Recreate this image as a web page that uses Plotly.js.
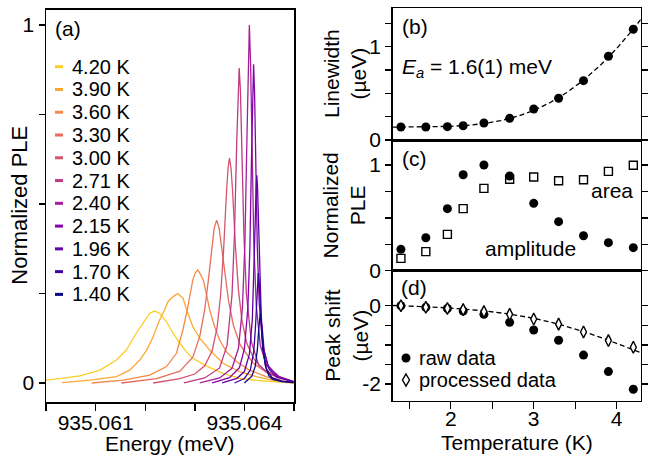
<!DOCTYPE html>
<html>
<head>
<meta charset="utf-8">
<script src="https://cdn.plot.ly/plotly-3.0.1.min.js"></script>
<style>html,body{margin:0;padding:0;background:#fff;}#chart{width:651px;height:458px;}</style>
</head>
<body>
<div id="chart"></div>
<script>
// ---------- DATA ----------
// Panel (a): PLE spectra. Energy offsets in µeV above 935.060 meV, normalized PLE.
const E0_meV = 935.060;
const specLabels = ['4.20 K','3.90 K','3.60 K','3.30 K','3.00 K','2.71 K','2.40 K','2.15 K','1.96 K','1.70 K','1.40 K'];
const specColors = ['#fcce25','#fca934','#f48a47','#e66e5b','#d4536f','#bf3984','#a41e99','#8405a7','#6001a6','#3c049b','#0d0887'];

const mu_420  = [0.00,0.28,0.68,1.09,1.42,1.62,1.82,1.96,2.09,2.19,2.29,2.43,2.56,2.70,2.83,2.96,3.10,3.23,3.57,3.90,4.24,4.57,4.91,4.99];
const ple_420 = [0.008,0.012,0.020,0.036,0.064,0.092,0.139,0.167,0.195,0.201,0.195,0.171,0.139,0.111,0.087,0.069,0.057,0.048,0.027,0.013,0.0075,0.004,0.001,0.0];

const mu_390  = [0.32,0.89,1.42,1.69,1.89,2.03,2.16,2.29,2.39,2.46,2.52,2.56,2.61,2.66,2.71,2.76,2.86,2.96,3.10,3.30,3.57,3.90,4.24,4.57,4.91,4.99];
const ple_390 = [0.001,0.008,0.018,0.036,0.064,0.092,0.129,0.176,0.204,0.227,0.236,0.241,0.246,0.249,0.243,0.237,0.195,0.157,0.125,0.092,0.055,0.032,0.018,0.008,0.002,0.0];

const mu_360  = [0.92,1.56,2.09,2.43,2.63,2.76,2.86,2.96,3.01,3.06,3.11,3.17,3.23,3.30,3.40,3.50,3.64,3.84,4.10,4.44,4.84,4.99];
const ple_360 = [0.0,0.008,0.022,0.046,0.083,0.148,0.213,0.288,0.308,0.316,0.305,0.288,0.251,0.204,0.157,0.120,0.087,0.060,0.036,0.018,0.004,0.0];

const mu_330  = [1.52,2.23,2.70,2.96,3.10,3.20,3.28,3.34,3.39,3.44,3.49,3.54,3.60,3.68,3.78,3.92,4.18,4.44,4.70,4.99];
const ple_330 = [0.0,0.012,0.033,0.072,0.130,0.205,0.295,0.375,0.432,0.455,0.433,0.380,0.310,0.230,0.160,0.105,0.055,0.030,0.016,0.004];

const mu_300  = [2.16,2.70,3.00,3.20,3.35,3.45,3.52,3.58,3.64,3.67,3.70,3.73,3.76,3.82,3.88,3.95,4.05,4.20,4.40,4.70,4.99];
const ple_300 = [0.0,0.012,0.025,0.048,0.090,0.155,0.245,0.370,0.535,0.600,0.628,0.600,0.540,0.380,0.260,0.175,0.110,0.065,0.036,0.018,0.004];

const mu_271  = [2.78,3.20,3.50,3.65,3.75,3.80,3.845,3.87,3.895,3.92,3.945,3.99,4.04,4.14,4.29,4.50,4.75,4.99];
const ple_271 = [0.0,0.014,0.042,0.105,0.245,0.416,0.672,0.817,0.880,0.817,0.672,0.416,0.250,0.115,0.050,0.025,0.013,0.004];

const mu_240  = [3.10,3.50,3.75,3.88,3.96,4.01,4.05,4.075,4.10,4.125,4.15,4.19,4.24,4.32,4.45,4.70,4.99];
const ple_240 = [0.0,0.014,0.041,0.097,0.209,0.390,0.675,0.892,1.000,0.892,0.675,0.390,0.215,0.105,0.048,0.018,0.004];

const mu_215  = [3.35,3.70,3.90,4.00,4.07,4.11,4.145,4.165,4.185,4.205,4.225,4.26,4.30,4.37,4.47,4.67,4.99];
const ple_215 = [0.0,0.015,0.043,0.095,0.210,0.375,0.640,0.810,0.890,0.810,0.640,0.380,0.220,0.105,0.050,0.018,0.004];

const mu_196  = [3.55,3.85,4.00,4.10,4.16,4.19,4.215,4.235,4.25,4.265,4.285,4.31,4.34,4.40,4.50,4.65,4.99];
const ple_196 = [0.0,0.013,0.032,0.080,0.178,0.290,0.433,0.546,0.580,0.546,0.433,0.295,0.185,0.088,0.038,0.016,0.003];

const mu_170  = [3.80,4.00,4.12,4.19,4.222,4.245,4.265,4.28,4.295,4.315,4.338,4.37,4.44,4.56,4.76,4.99];
const ple_170 = [0.0,0.0126,0.036,0.090,0.1535,0.225,0.288,0.307,0.288,0.225,0.155,0.093,0.040,0.015,0.005,0.002];

const mu_140  = [4.00,4.15,4.22,4.264,4.29,4.305,4.32,4.335,4.35,4.376,4.42,4.49,4.56,4.75,4.99];
const ple_140 = [0.0,0.019,0.047,0.0975,0.152,0.182,0.195,0.182,0.152,0.100,0.050,0.021,0.011,0.004,0.001];

// Panels (b)-(d): temperature series
const temps      = [1.40,1.70,1.96,2.15,2.40,2.71,3.00,3.30,3.60,3.90,4.20];
const linewidth  = [0.139,0.139,0.143,0.153,0.182,0.232,0.332,0.447,0.636,0.897,1.186];
const fitT_b     = [1.30,1.50,2.00,2.20,2.40,2.60,2.80,3.00,3.20,3.40,3.60,3.80,4.00,4.20,4.29];
const fitW_b     = [0.138,0.138,0.146,0.157,0.176,0.207,0.253,0.317,0.402,0.509,0.641,0.798,0.980,1.189,1.292];
const amplitude  = [0.202,0.312,0.587,0.908,1.000,0.896,0.637,0.464,0.331,0.265,0.218];
const area       = [0.117,0.180,0.344,0.587,0.779,0.865,0.886,0.851,0.861,0.940,0.997];
const shiftRaw   = [0.0,-0.04,-0.07,-0.135,-0.22,-0.425,-0.62,-0.88,-1.26,-1.68,-2.13];
const shiftProc  = [0.0,-0.04,-0.07,-0.10,-0.15,-0.22,-0.34,-0.47,-0.67,-0.89,-1.06];
const fitT_d     = [1.30,1.40,1.70,2.00,2.40,2.70,3.00,3.30,3.60,3.90,4.20,4.29];
const fitS_d     = [0.005,0.0,-0.025,-0.06,-0.13,-0.21,-0.32,-0.47,-0.66,-0.88,-1.12,-1.20];

// ---------- BUILD ----------
const spectra = [
  [mu_420,ple_420],[mu_390,ple_390],[mu_360,ple_360],[mu_330,ple_330],[mu_300,ple_300],
  [mu_271,ple_271],[mu_240,ple_240],[mu_215,ple_215],[mu_196,ple_196],[mu_170,ple_170],[mu_140,ple_140]
];
const W = 651, H = 458;
const fx = p => p / W, fy = p => 1 - p / H;
const FONT = 'Liberation Sans, Arial, sans-serif';

const traces = [];
spectra.forEach((s, i) => {
  traces.push({
    x: s[0].map(v => E0_meV + v / 1000), y: s[1], xaxis: 'x', yaxis: 'y',
    mode: 'lines', line: {color: specColors[i], width: 1.3}, name: specLabels[i], hoverinfo: 'skip'
  });
});
traces.push({x: fitT_b, y: fitW_b, xaxis: 'x2', yaxis: 'y2', mode: 'lines',
  line: {color: 'black', width: 1.3, dash: '5px,3px'}});
traces.push({x: temps, y: linewidth, xaxis: 'x2', yaxis: 'y2', mode: 'markers',
  marker: {symbol: 'circle', size: 9, color: 'black'}});
traces.push({x: temps, y: amplitude, xaxis: 'x3', yaxis: 'y3', mode: 'markers',
  marker: {symbol: 'circle', size: 9, color: 'black'}});
traces.push({x: temps, y: area, xaxis: 'x3', yaxis: 'y3', mode: 'markers',
  marker: {symbol: 'square-open', size: 8, color: 'black', line: {width: 1.4, color: 'black'}}});
traces.push({x: temps, y: shiftRaw, xaxis: 'x4', yaxis: 'y4', mode: 'markers',
  marker: {symbol: 'circle', size: 9, color: 'black'}});
traces.push({x: fitT_d, y: fitS_d, xaxis: 'x4', yaxis: 'y4', mode: 'lines',
  line: {color: 'black', width: 1.3, dash: '5px,3px'}});
traces.push({x: temps, y: shiftProc, xaxis: 'x4', yaxis: 'y4', mode: 'markers',
  marker: {symbol: 'diamond-tall', size: 8.5, color: 'white', line: {width: 1.4, color: 'black'}}});

const base = {
  showline: true, linecolor: 'black', linewidth: 1.5, mirror: true,
  ticks: 'outside', tickcolor: 'black', tickwidth: 1.4, ticklen: 6,
  showgrid: false, zeroline: false, tickfont: {family: FONT, size: 21, color: 'black'}
};
const xR = [1.301, 4.289];
const layout = {
  width: W, height: H, margin: {l: 0, r: 0, t: 0, b: 0},
  paper_bgcolor: 'white', plot_bgcolor: 'white', showlegend: false,
  font: {family: FONT, size: 21, color: 'black'},
  xaxis: Object.assign({}, base, {domain: [fx(46), fx(294)], range: [935.060, 935.065], anchor: 'y', ticklen: 7,
    ticklabelstandoff: -6,
    tickvals: [935.060,935.061,935.062,935.063,935.064,935.065], ticktext: ['','935.061','','','935.064','']}),
  yaxis: Object.assign({}, base, {domain: [fy(402), fy(9.5)], range: [-0.0531, 1.0433], anchor: 'x',
    tickvals: [0,0.25,0.5,0.75,1], ticktext: ['0','','','','1']}),
  xaxis2: Object.assign({}, base, {domain: [fx(392.7), fx(640.7)], range: xR, anchor: 'y2', ticks: '', showticklabels: false}),
  yaxis2: Object.assign({}, base, {domain: [fy(140), fy(8.3)], range: [0, 1.411], anchor: 'x2', mirror: 'ticks',
    tickvals: [0,0.25,0.5,0.75,1,1.25], ticktext: ['0','','','','1','']}),
  xaxis3: Object.assign({}, base, {domain: [fx(392.7), fx(640.7)], range: xR, anchor: 'y3', ticks: '', showticklabels: false}),
  yaxis3: Object.assign({}, base, {domain: [fy(270.7), fy(140)], range: [0, 1.2365], anchor: 'x3', mirror: 'ticks',
    tickvals: [0,0.25,0.5,0.75,1], ticktext: ['0','','','','1']}),
  xaxis4: Object.assign({}, base, {domain: [fx(392.7), fx(640.7)], range: xR, anchor: 'y4', ticklen: 7,
    ticklabelstandoff: -8,
    tickvals: [1.5,2,2.5,3,3.5,4], ticktext: ['','2','','3','','4']}),
  yaxis4: Object.assign({}, base, {domain: [fy(400.7), fy(270.7)], range: [-2.4235, 0.893], anchor: 'x4', mirror: 'ticks',
    tickvals: [0,-0.5,-1,-1.5,-2], ticktext: ['0','','','','-2']}),
  annotations: [],
  shapes: []
};
const ann = (text, x, y, opts) => layout.annotations.push(Object.assign({
  text, x: fx(x), y: fy(y), xref: 'paper', yref: 'paper', showarrow: false,
  xanchor: 'center', yanchor: 'middle', font: {family: FONT, size: 21, color: 'black'}
}, opts || {}));

// axis titles
ann('Normalized PLE', 20, 205.7, {textangle: -90, font: {family: FONT, size: 22, color: 'black'}});
ann('Energy (meV)', 170, 443);
ann('Linewidth<br>(µeV)', 345, 74, {textangle: -90});
ann('Normalized<br>PLE', 344, 205.4, {textangle: -90});
ann('Peak shift<br>(µeV)', 346, 335.7, {textangle: -90});
ann('Temperature (K)', 516.7, 442);
// panel labels
ann('(a)', 68, 29); ann('(b)', 415, 27); ann('(c)', 414, 158); ann('(d)', 414, 287);
ann('<i>E</i><sub><i>a</i></sub> = 1.6(1) meV', 400, 68, {xanchor: 'left'});
ann('area', 611.7, 190.5);
ann('amplitude', 530, 248);
// legend of panel (a)
specLabels.forEach((lab, i) => {
  const yy = 66.7 + i * 22.77;
  ann(lab, 70, yy, {xanchor: 'left', font: {family: FONT, size: 20, color: 'black'}});
  layout.shapes.push({type: 'line', xref: 'paper', yref: 'paper', x0: fx(55), x1: fx(63), y0: fy(yy), y1: fy(yy),
    line: {color: specColors[i], width: 3}});
});
// legend of panel (d)
ann('raw data', 417, 358, {xanchor: 'left', font: {family: FONT, size: 20, color: 'black'}});
ann('processed data', 417, 380, {xanchor: 'left', font: {family: FONT, size: 20, color: 'black'}});
layout.shapes.push({type: 'circle', xref: 'paper', yref: 'paper', x0: fx(401.5), x1: fx(410.5), y0: fy(362.5), y1: fy(353.5),
  fillcolor: 'black', line: {color: 'black', width: 0}});
layout.shapes.push({type: 'path', xref: 'paper', yref: 'paper',
  path: `M ${fx(406)},${fy(374)} L ${fx(409.5)},${fy(380)} L ${fx(406)},${fy(386)} L ${fx(402.5)},${fy(380)} Z`,
  fillcolor: 'white', line: {color: 'black', width: 1.4}});

Plotly.newPlot('chart', traces, layout, {staticPlot: true, displayModeBar: false});
</script>
</body>
</html>
